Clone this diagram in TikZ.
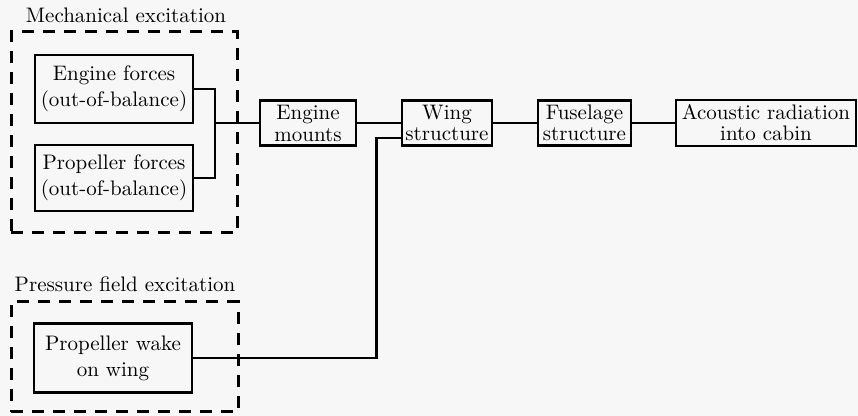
\documentclass[tikz,border=0pt]{standalone}
\usetikzlibrary{calc}
\begin{document}
\begin{tikzpicture}[x=0.5pt,y=-0.5pt,
  blk/.style={draw, line width=1.4pt, align=center, inner sep=0pt, font=\fontsize{10.5}{13}\selectfont},
  grp/.style={draw, line width=1.5pt, dash pattern=on 6pt off 4.5pt, inner sep=0pt},
  lbl/.style={inner sep=0pt, font=\fontsize{10.5}{12}\selectfont},
  wire/.style={line width=1.2pt}]
\useasboundingbox (0,0) rectangle (858,416);
\fill[white!97!black] (0,0) rectangle (858,416);
% group boxes
\node[grp, minimum width=113pt, minimum height=100.5pt] (mech) at (124,132.5) {};
\node[grp, minimum width=113.5pt, minimum height=55pt] (press) at (124.5,357) {};
\node[lbl] (mechl) at (126,15) {Mechanical excitation};
\node[lbl] (pressl) at (125,284) {Pressure field excitation};
% blocks
\node[blk, minimum width=79pt, minimum height=34pt] (ef) at (114,89) {Engine forces\\(out-of-balance)};
\node[blk, minimum width=79pt, minimum height=33pt] (pf) at (114,178) {Propeller forces\\(out-of-balance)};
\node[blk, minimum width=48pt, minimum height=22.5pt, font=\fontsize{10.5}{11}\selectfont] (em) at (308,123) {Engine\\mounts};
\node[blk, minimum width=45pt, minimum height=22.5pt, font=\fontsize{10.5}{10.5}\selectfont] (ws) at (447,123) {Wing\\structure};
\node[blk, minimum width=46.5pt, minimum height=22.5pt, font=\fontsize{10.5}{10.5}\selectfont] (fs) at (584.5,123) {Fuselage\\structure};
\node[blk, minimum width=90pt, minimum height=23pt, font=\fontsize{10.5}{10.5}\selectfont] (ar) at (766,123) {Acoustic radiation\\into cabin};
\node[blk, minimum width=79pt, minimum height=34.5pt] (pw) at (113,358) {Propeller wake\\on wing};
% connectors
\coordinate (j) at (215,123);
\draw[wire] (ef.east) -| (j) |- (pf.east);
\draw[wire] (j) -- (em.west);
\draw[wire] (em.east) -- (ws.west);
\draw[wire] (ws.east) -- (fs.west);
\draw[wire] (fs.east) -- (ar.west);
\coordinate (wsin) at ($(ws.west)+(0,15)$);
\coordinate (bend) at ($(wsin)+(-24,0)$);
\draw[wire] (pw.east) -| (bend) -- (wsin);
\end{tikzpicture}
\end{document}
